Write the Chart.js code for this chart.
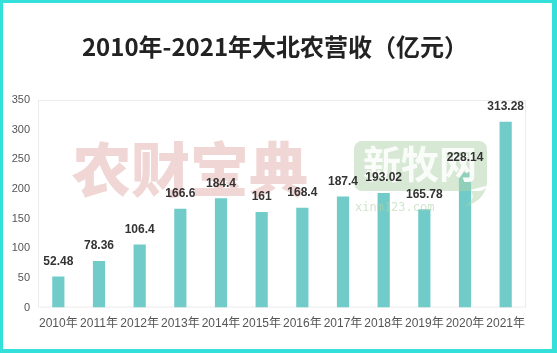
<!DOCTYPE html>
<html>
<head>
<meta charset="utf-8">
<script src="https://cdn.jsdelivr.net/npm/chart.js@4.4.1/dist/chart.umd.min.js"></script>
<style>
  body { margin: 0; background: #fff; }
  #wrap { position: relative; width: 557px; height: 353px; }
  #frame { position: absolute; left: 0; top: 0; width: 557px; height: 353px; box-sizing: border-box;
           border: 3px solid #33e0da; border-right-width: 5px; border-bottom-width: 4px; pointer-events: none; }
</style>
</head>
<body>
<div id="wrap">
  <canvas id="chart" width="557" height="353"></canvas>
  <div id="frame"></div>
</div>
<script>
const years = ['2010年', '2011年', '2012年', '2013年', '2014年', '2015年', '2016年', '2017年', '2018年', '2019年', '2020年', '2021年'];
const revenue = [52.48, 78.36, 106.4, 166.6, 184.4, 161, 168.4, 187.4, 193.02, 165.78, 228.14, 313.28];
const titleText = '2010年-2021年大北农营收（亿元）';

// title, light frame round the plot area, pink watermark behind the bars
const backdrop = {
    id: 'backdrop',
    beforeDatasetsDraw(chart) {
        const { ctx, chartArea: a } = chart;
        ctx.save();
        ctx.fillStyle = '#222';
        ctx.font = 'bold 24px "Noto Sans CJK SC"';
        ctx.textAlign = 'center';
        ctx.textBaseline = 'middle';
        ctx.fillText(titleText, 275, 47);

        ctx.strokeStyle = '#ececec';
        ctx.lineWidth = 1;
        ctx.strokeRect(a.left + 0.5, a.top + 0.5, a.right - a.left - 1, a.bottom - a.top - 1);

        ctx.fillStyle = '#f0d7d5';
        ctx.font = '900 59px "Noto Sans CJK SC"';
        ctx.fillText('农财宝典', 190, 170);
        ctx.restore();
    }
};

// green watermark over the bars, then the value labels on top
const valueLabels = {
    id: 'valueLabels',
    afterDatasetsDraw(chart) {
        const { ctx } = chart;
        ctx.save();
        ctx.fillStyle = 'rgba(175, 212, 170, 0.5)';
        ctx.beginPath();
        ctx.roundRect(354, 141, 133, 50, 8);
        ctx.moveTo(470, 190);
        ctx.quadraticCurveTo(478, 200, 462, 207);
        ctx.quadraticCurveTo(484, 202, 486, 186);
        ctx.fill();
        ctx.fillStyle = 'rgba(255, 255, 255, 0.9)';
        ctx.font = 'bold 38px "Noto Sans CJK SC"';
        ctx.textAlign = 'center';
        ctx.textBaseline = 'middle';
        ctx.fillText('新牧网', 420, 164);
        ctx.fillStyle = 'rgba(175, 212, 170, 0.6)';
        ctx.font = '12px "DejaVu Sans Mono"';
        ctx.textAlign = 'left';
        ctx.fillText('xinm123.com', 355, 208);

        ctx.fillStyle = '#333';
        ctx.font = 'bold 12px "Liberation Sans"';
        ctx.textAlign = 'center';
        chart.getDatasetMeta(0).data.forEach((bar, i) => {
            ctx.fillText(String(revenue[i]), bar.x, bar.y - 15);
        });
        ctx.restore();
    }
};

new Chart(document.getElementById('chart'), {
    type: 'bar',
    data: {
        labels: years,
        datasets: [{
            data: revenue,
            backgroundColor: '#70cbc9',
            categoryPercentage: 0.3,
            barPercentage: 1
        }]
    },
    options: {
        responsive: false,
        animation: false,
        layout: { padding: { left: 0, right: 31, top: 100, bottom: 13 } },
        plugins: {
            legend: { display: false },
            tooltip: { enabled: false },
            title: { display: false }
        },
        scales: {
            x: {
                grid: { display: false, drawTicks: false },
                border: { display: false },
                ticks: {
                    color: '#555',
                    font: { family: '"Liberation Sans", "Noto Sans CJK SC"', size: 12 },
                    padding: 9,
                    maxRotation: 0,
                    autoSkip: false
                }
            },
            y: {
                min: 0,
                max: 350,
                grid: { display: false, drawTicks: false },
                border: { display: false },
                ticks: {
                    stepSize: 50,
                    color: '#555',
                    font: { family: '"Liberation Sans"', size: 11 },
                    padding: 8
                },
                afterFit(scale) { scale.width = 38; }
            }
        }
    },
    plugins: [backdrop, valueLabels]
});
</script>
</body>
</html>
